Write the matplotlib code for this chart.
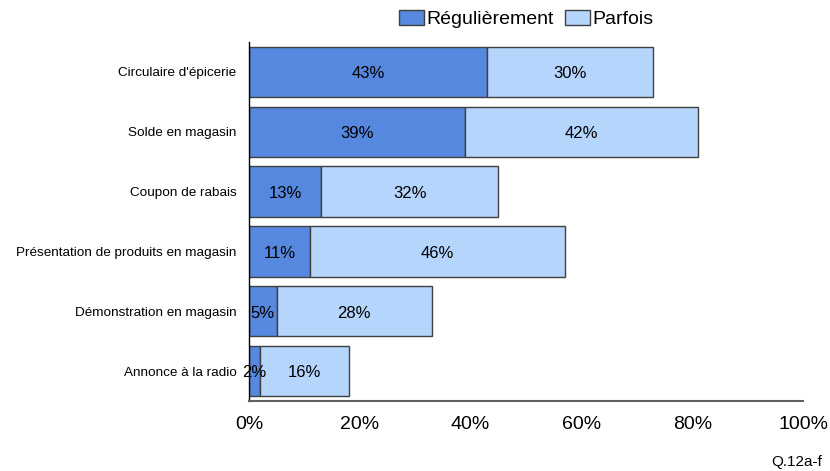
import matplotlib.pyplot as plt
from matplotlib.patches import Patch

plt.rcParams['font.family'] = ['Liberation Sans', 'DejaVu Sans']

# Survey results, top to bottom
categories = [
    "Circulaire d'épicerie",
    "Solde en magasin",
    "Coupon de rabais",
    "Présentation de produits en magasin",
    "Démonstration en magasin",
    "Annonce à la radio",
]
regulierement = [43, 39, 13, 11, 5, 2]
parfois = [30, 42, 32, 46, 28, 16]
series_names = ["Régulièrement", "Parfois"]
tick_values = [0, 20, 40, 60, 80, 100]

dark_blue = "#5588de"
light_blue = "#b5d5fd"
edge = "#404040"

fig = plt.figure(figsize=(8.3, 4.71), dpi=100)
ax = fig.add_axes([0.3, 0.1486, 0.6675, 0.7622])

y = list(range(len(categories)))
ax.barh(y, regulierement, height=0.84, color=dark_blue, edgecolor=edge, linewidth=1)
ax.barh(y, parfois, left=regulierement, height=0.84, color=light_blue,
        edgecolor=edge, linewidth=1)

for i in y:
    ax.text(regulierement[i] / 2, i + 0.03, f"{regulierement[i]}%", ha="center",
            va="center", fontsize=12)
    ax.text(regulierement[i] + parfois[i] / 2, i + 0.03, f"{parfois[i]}%", ha="center",
            va="center", fontsize=12)

ax.set_xlim(0, 100)
ax.set_ylim(len(categories) - 0.5, -0.5)
ax.set_yticks(y)
ax.set_yticklabels(categories, fontsize=9.7)
ax.set_xticks(tick_values)
ax.set_xticklabels([f"{v}%" for v in tick_values], fontsize=14)
ax.tick_params(axis="both", length=0)
ax.tick_params(axis="x", pad=11)
ax.tick_params(axis="y", pad=9)

for side in ["top", "right"]:
    ax.spines[side].set_visible(False)
ax.spines["left"].set_color("black")
ax.spines["left"].set_linewidth(1)
ax.spines["bottom"].set_color("#606060")
ax.spines["bottom"].set_linewidth(1.5)

handles = [Patch(facecolor=dark_blue, edgecolor=edge),
           Patch(facecolor=light_blue, edgecolor=edge)]
fig.legend(handles, series_names, loc="center", bbox_to_anchor=(0.634, 0.959),
           ncol=2, frameon=False, fontsize=14, handlelength=1.3, handleheight=0.75,
           handletextpad=0.1, columnspacing=0.6, borderpad=0)

fig.text(0.99, 0.02, "Q.12a-f", ha="right", va="center", fontsize=11)

fig.savefig("out.png", dpi=100)
